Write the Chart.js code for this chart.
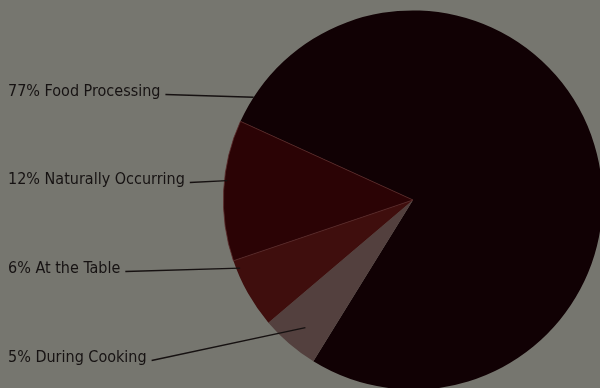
<!DOCTYPE html>
<html>
<head>
<meta charset="utf-8">
<script src="https://cdn.jsdelivr.net/npm/chart.js@4.4.1/dist/chart.umd.min.js"></script>
<style>
html,body{margin:0;padding:0;background:#76766f;overflow:hidden;width:600px;height:388px;}
#wrap{position:relative;width:600px;height:388px;overflow:hidden;}
canvas{position:absolute;left:0;top:0;}
</style>
</head>
<body>
<div id="wrap"><canvas id="c" width="620" height="400"></canvas></div>
<script>
// Data (clockwise order as drawn)
const categories = ['Food Processing', 'During Cooking', 'At the Table', 'Naturally Occurring'];
const shares = [77, 5, 6, 12];
const labelTexts = ['77% Food Processing', '5% During Cooking', '6% At the Table', '12% Naturally Occurring'];
const sliceColors = ['#110104', '#53403e', '#3f0e0d', '#2b0305'];

// label layout: text baseline y, position along slice (t) and radius fraction for leader end
const labelLayout = [
  {y: 95.5,  t: 0.03, rf: 1.0},
  {y: 361.5, t: 0.47, rf: 0.88},
  {y: 272.5, t: 0.87, rf: 0.98},
  {y: 183.5, t: 0.57, rf: 0.985}
];

const leaderPlugin = {
  id: 'leaders',
  afterDatasetsDraw(chart) {
    const ctx = chart.ctx;
    const meta = chart.getDatasetMeta(0);
    ctx.save();
    ctx.font = "16px 'Liberation Sans Narrow', 'DejaVu Sans Condensed', sans-serif";
    ctx.fillStyle = '#161212';
    ctx.strokeStyle = '#161111';
    ctx.lineWidth = 1.3;
    ctx.textBaseline = 'alphabetic';
    meta.data.forEach((arc, i) => {
      const L = labelLayout[i];
      const p = arc.getProps(['x','y','startAngle','endAngle','outerRadius'], true);
      const a = p.startAngle + L.t * (p.endAngle - p.startAngle);
      const ex = p.x + Math.cos(a) * p.outerRadius * L.rf;
      const ey = p.y + Math.sin(a) * p.outerRadius * L.rf;
      const txt = labelTexts[i];
      ctx.fillText(txt, 8, L.y);
      const w = ctx.measureText(txt).width;
      ctx.beginPath();
      ctx.moveTo(8 + w + 5, L.y - 1);
      ctx.lineTo(ex, ey);
      ctx.stroke();
    });
    ctx.restore();
  }
};

new Chart(document.getElementById('c'), {
  type: 'pie',
  data: {
    labels: categories,
    datasets: [{
      data: shares,
      backgroundColor: sliceColors,
      borderColor: ['#110104', '#53403e', '#3f0e0d', '#5a2a2a'],
      borderWidth: [0, 0, 0, 0.8]
    }]
  },
  options: {
    responsive: false,
    animation: false,
    rotation: 294.5,
    layout: {padding: {left: 223, right: 17, top: 10, bottom: 10}},
    plugins: {legend: {display: false}, tooltip: {enabled: false}}
  },
  plugins: [leaderPlugin]
});
</script>
</body>
</html>
